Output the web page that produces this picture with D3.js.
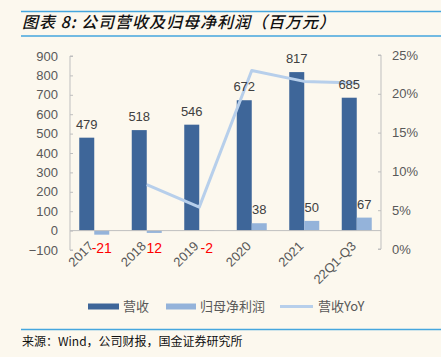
<!DOCTYPE html>
<html><head><meta charset="utf-8">
<script src="https://cdn.jsdelivr.net/npm/d3@7"></script>
<style>
html,body{margin:0;padding:0;background:#fcf8ee;}
svg{display:block;}
text{font-family:"Liberation Sans","Noto Sans CJK SC",Arial,sans-serif;}
.cjk{font-family:"Noto Sans CJK SC",sans-serif;}
</style></head>
<body>
<script>
const categories = ["2017","2018","2019","2020","2021","22Q1-Q3"];
const revenue = [479, 518, 546, 672, 817, 685];
const netProfit = [-21, -12, -2, 38, 50, 67];
const netLabels = ["-21", "12", "-2", "38", "50", "67"];
const yoy = [null, 0.083, 0.054, 0.230, 0.216, 0.214];
const leftTicks = [-100, 0, 100, 200, 300, 400, 500, 600, 700, 800, 900];
const rightTicks = [0, 0.05, 0.10, 0.15, 0.20, 0.25];

const W = 441, H = 357;
const svg = d3.select("body").append("svg").attr("width", W).attr("height", H);
svg.append("rect").attr("width", W).attr("height", H).attr("fill", "#fcf8ee");

// title
svg.append("line").attr("x1", 21).attr("x2", W).attr("y1", 11.5).attr("y2", 11.5).attr("stroke", "#45a6de").attr("stroke-width", 1.5);
svg.append("line").attr("x1", 21).attr("x2", W).attr("y1", 36).attr("y2", 36).attr("stroke", "#45a6de").attr("stroke-width", 1.5);
svg.append("text").attr("class", "cjk").attr("x", 22).attr("y", 28)
  .attr("font-size", 16).attr("font-style", "italic").attr("font-weight", 500).attr("fill", "#111")
  .attr("letter-spacing", 1)
  .text("图表 8: 公司营收及归母净利润（百万元）");

const x = d3.scaleBand().domain(categories).range([68, 383]);
const yL = d3.scaleLinear().domain([-100, 900]).range([250, 56]);
const yR = d3.scaleLinear().domain([0, 0.25]).range([249, 55]);
const bw = 15;
const cx = c => x(c) + x.bandwidth() / 2;

const axisColor = "#bfbfbf";
const labelColor = "#595959";

// left axis
const gl = svg.append("g").attr("transform", "translate(70,0)")
  .call(d3.axisRight(yL).tickValues(leftTicks).tickSize(3).tickFormat(d3.format("d")));
gl.select(".domain").attr("stroke", axisColor).attr("d", `M3,${yL(900)}H0V${yL(-100)}H3`);
gl.selectAll(".tick line").attr("stroke", axisColor);
gl.selectAll(".tick text").attr("x", -12).attr("text-anchor", "end").attr("fill", labelColor).attr("font-size", 13);

// right axis
const gr = svg.append("g").attr("transform", "translate(381,0)")
  .call(d3.axisLeft(yR).tickValues(rightTicks).tickSize(3).tickFormat(d3.format(".0%")));
gr.select(".domain").attr("stroke", axisColor).attr("d", `M-3,${yR(0.25)}H0V${yR(0)}H-3`);
gr.selectAll(".tick line").attr("stroke", axisColor);
gr.selectAll(".tick text").attr("x", 11).attr("text-anchor", "start").attr("fill", labelColor).attr("font-size", 13);

// bars
svg.append("g").selectAll("rect").data(categories).join("rect")
  .attr("x", (c) => cx(c) - bw).attr("width", bw)
  .attr("y", (c, i) => yL(Math.max(0, revenue[i])))
  .attr("height", (c, i) => Math.abs(yL(revenue[i]) - yL(0)))
  .attr("fill", "#3e6699");
svg.append("g").selectAll("rect").data(categories).join("rect")
  .attr("x", (c) => cx(c)).attr("width", bw)
  .attr("y", (c, i) => yL(Math.max(0, netProfit[i])))
  .attr("height", (c, i) => Math.abs(yL(netProfit[i]) - yL(0)))
  .attr("fill", "#94b3da");

// zero line
svg.append("line").attr("x1", 70).attr("x2", 381).attr("y1", yL(0)).attr("y2", yL(0)).attr("stroke", axisColor).attr("stroke-width", 1);

// yoy line
const pts = categories.map((c, i) => [cx(c), yoy[i]]).filter(d => d[1] !== null);
svg.append("path").datum(pts)
  .attr("d", d3.line().x(d => d[0]).y(d => yR(d[1])))
  .attr("fill", "none").attr("stroke", "#b7cfeb").attr("stroke-width", 3).attr("stroke-linejoin", "round");

// revenue labels
svg.append("g").selectAll("text").data(categories).join("text")
  .attr("x", c => cx(c) - bw / 2).attr("y", (c, i) => yL(revenue[i]) - 9)
  .attr("text-anchor", "middle").attr("font-size", 13).attr("fill", "#404040")
  .text((c, i) => revenue[i]);
// net labels
svg.append("g").selectAll("text").data(categories).join("text")
  .attr("x", c => cx(c) + bw / 2)
  .attr("y", (c, i) => netProfit[i] < 0 ? 253 : yL(netProfit[i]) - 9)
  .attr("text-anchor", "middle")
  .attr("font-size", (c, i) => netProfit[i] < 0 ? 14 : 13)
  .attr("fill", (c, i) => netProfit[i] < 0 ? "#ff0000" : "#404040")
  .text((c, i) => netLabels[i]);

// x labels
svg.append("g").selectAll("text").data(categories).join("text")
  .attr("transform", c => `translate(${cx(c)},${247}) rotate(-45)`)
  .attr("text-anchor", "end").attr("font-size", 13).attr("fill", labelColor)
  .text(c => c);

// legend
const ly = 306.5;
svg.append("rect").attr("x", 88).attr("y", ly - 3).attr("width", 31).attr("height", 6).attr("fill", "#3e6699");
svg.append("text").attr("class", "cjk").attr("x", 123).attr("y", ly + 4.5).attr("font-size", 13).attr("fill", labelColor).text("营收");
svg.append("rect").attr("x", 166).attr("y", ly - 3).attr("width", 30).attr("height", 6).attr("fill", "#94b3da");
svg.append("text").attr("class", "cjk").attr("x", 200).attr("y", ly + 4.5).attr("font-size", 13).attr("fill", labelColor).text("归母净利润");
svg.append("line").attr("x1", 280).attr("x2", 313).attr("y1", ly).attr("y2", ly).attr("stroke", "#b7cfeb").attr("stroke-width", 3);
svg.append("text").attr("class", "cjk").attr("x", 318).attr("y", ly + 4.5).attr("font-size", 13).attr("fill", labelColor).text("营收YoY");

// source
svg.append("line").attr("x1", 21).attr("x2", W).attr("y1", 329.5).attr("y2", 329.5).attr("stroke", "#45a6de").attr("stroke-width", 1.5);
svg.append("text").attr("class", "cjk").attr("x", 22).attr("y", 346).attr("font-size", 12).attr("fill", "#111")
  .text("来源：Wind，公司财报，国金证券研究所");
</script>
</body></html>
